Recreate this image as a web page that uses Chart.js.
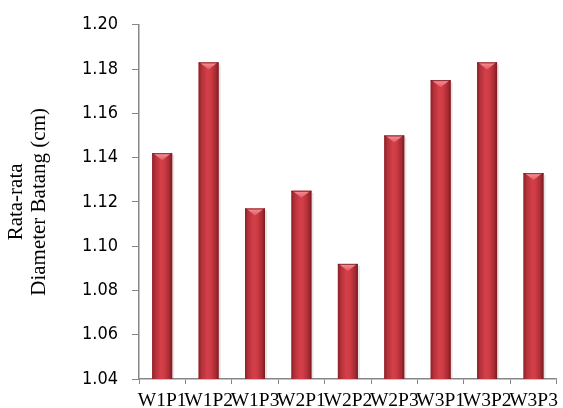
<!DOCTYPE html>
<html>
<head>
<meta charset="utf-8">
<script src="https://cdn.jsdelivr.net/npm/chart.js@4.4.1/dist/chart.umd.min.js"></script>
<style>
  html, body { margin: 0; padding: 0; background: #ffffff; }
  #wrap { width: 563px; height: 408px; }
</style>
</head>
<body>
<div id="wrap"><canvas id="chart" width="563" height="408"></canvas></div>
<script>
// Treatment combinations (W = level, P = level)
const categories = ['W1P1', 'W1P2', 'W1P3', 'W2P1', 'W2P2', 'W2P3', 'W3P1', 'W3P2', 'W3P3'];
// Mean stem diameter, cm
const meanDiameter = [1.142, 1.183, 1.117, 1.125, 1.092, 1.150, 1.175, 1.183, 1.133];
// Value axis ticks
const yTicks = [1.04, 1.06, 1.08, 1.10, 1.12, 1.14, 1.16, 1.18, 1.20];
const yTitle = ['Rata-rata', 'Diameter Batang (cm)'];

const AXIS_GREY = '#878787';

// Paints each bar as a shaded cylinder with a bevelled cap on top.
const cylinderBars = {
  id: 'cylinderBars',
  afterDatasetDraw(chart, args) {
    const ctx = chart.ctx;
    const area = chart.chartArea;
    ctx.save();
    ctx.beginPath();
    ctx.rect(area.left, area.top - 2, area.right - area.left, area.bottom - area.top + 2);
    ctx.clip();
    args.meta.data.forEach(el => {
      const { x, y, base, width } = el.getProps(['x', 'y', 'base', 'width'], true);
      const x0 = x - width / 2, x1 = x + width / 2;

      // soft shadow on the right side
      ctx.fillStyle = 'rgba(120,120,120,0.2)';
      ctx.fillRect(x1, y + 2, 2, base - y - 2);

      const g = ctx.createLinearGradient(x0, 0, x1, 0);
      g.addColorStop(0.00, '#862025');
      g.addColorStop(0.14, '#b2303a');
      g.addColorStop(0.42, '#d43f48');
      g.addColorStop(0.60, '#cf3c45');
      g.addColorStop(0.86, '#a62b33');
      g.addColorStop(1.00, '#771b20');
      ctx.fillStyle = g;
      ctx.fillRect(x0, y, width, base - y);

      // bevelled cap
      const capH = Math.min(7, base - y);
      const cg = ctx.createLinearGradient(0, y, 0, y + capH);
      cg.addColorStop(0, '#f7939a');
      cg.addColorStop(1, '#e45a62');
      ctx.fillStyle = cg;
      ctx.beginPath();
      ctx.moveTo(x0 + 1, y);
      ctx.lineTo(x1 - 1, y);
      ctx.lineTo(x, y + capH);
      ctx.closePath();
      ctx.fill();

      ctx.strokeStyle = 'rgba(110,25,30,0.8)';
      ctx.lineWidth = 1;
      ctx.beginPath();
      ctx.moveTo(x0, y + 0.5);
      ctx.lineTo(x1, y + 0.5);
      ctx.stroke();
    });
    ctx.restore();
  }
};

new Chart(document.getElementById('chart'), {
  type: 'bar',
  data: {
    labels: categories,
    datasets: [{
      data: meanDiameter,
      backgroundColor: '#c3343b',
      borderWidth: 0,
      barPercentage: 0.43,
      categoryPercentage: 1.0
    }]
  },
  options: {
    responsive: false,
    animation: false,
    devicePixelRatio: 1,
    layout: { padding: { top: 21, right: 2, left: 0, bottom: 0 } },
    plugins: {
      legend: { display: false },
      tooltip: { enabled: false }
    },
    scales: {
      x: {
        offset: true,
        grid: {
          offset: true,
          drawOnChartArea: false,
          drawTicks: true,
          tickLength: 5,
          color: AXIS_GREY,
          lineWidth: 1
        },
        border: { display: true, color: AXIS_GREY, width: 1.5 },
        ticks: {
          color: '#000000',
          padding: 5,
          maxRotation: 0,
          autoSkip: false,
          font: { family: '"Liberation Serif", "Times New Roman", serif', size: 19.5 }
        },
        afterFit(scale) { scale.height = 29; }
      },
      y: {
        min: yTicks[0],
        max: yTicks[yTicks.length - 1],
        afterBuildTicks(scale) { scale.ticks = yTicks.map(v => ({ value: v })); },
        grid: {
          drawOnChartArea: false,
          drawTicks: true,
          tickLength: 7,
          color: AXIS_GREY,
          lineWidth: 1
        },
        border: { display: true, color: AXIS_GREY, width: 1.5 },
        ticks: {
          color: '#000000',
          padding: 14,
          callback: v => Number(v).toFixed(2),
          font: { family: '"DejaVu Sans Condensed", "DejaVu Sans", sans-serif', size: 18 }
        },
        title: {
          display: true,
          text: yTitle,
          color: '#000000',
          padding: { top: 5, bottom: 0 },
          font: { family: '"Liberation Serif", "Times New Roman", serif', size: 21, lineHeight: 1.1 }
        },
        afterFit(scale) { scale.width = 139; }
      }
    }
  },
  plugins: [cylinderBars]
});
</script>
</body>
</html>
